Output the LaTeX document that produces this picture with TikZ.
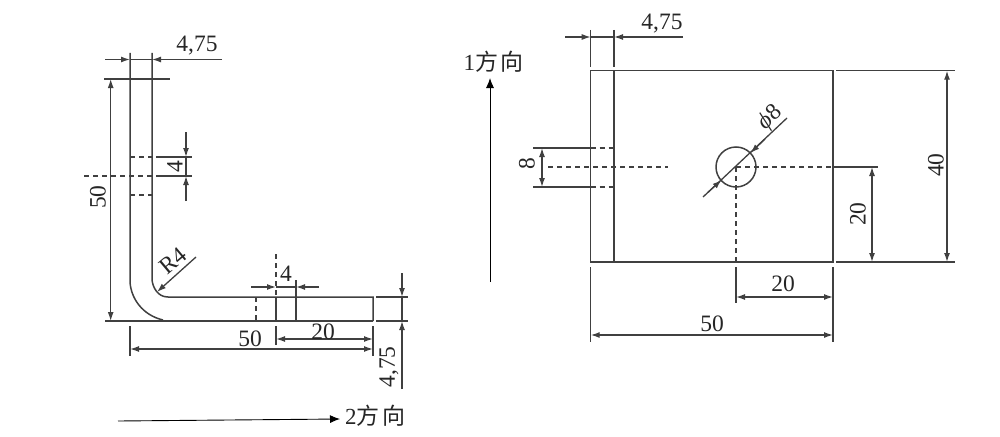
\documentclass[tikz,border=0pt]{standalone}
\usepackage{fontspec}
\setmainfont{Liberation Serif}
\newfontfamily\cjk{Noto Sans CJK SC}
\usetikzlibrary{arrows.meta}
\definecolor{ink}{HTML}{404040}
\newcommand{\fxd}{{\cjk 方\hspace{2.5pt}向}}
\tikzset{
  x=1pt,y=-1pt,
  part/.style={draw=ink,line width=1.5pt},
  hid/.style={draw=ink,line width=1.3pt,dash pattern=on 5pt off 4pt},
  dim/.style={draw=ink,line width=1.3pt},
  dimend/.style={dim,{Latex[length=9pt,width=6pt]}-{Latex[length=9pt,width=6pt]}},
  dimto/.style={dim,-{Latex[length=9pt,width=6pt]}},
  dirarrow/.style={draw=black,line width=0.9pt,-{Latex[length=10pt,width=8pt]}},
  lbl/.style={inner sep=0pt,font=\fontsize{23.5}{24}\selectfont,text=black!85},
  cjklbl/.style={inner sep=0pt,font=\fontsize{23}{24}\selectfont,text=black!85}
}
\begin{document}
\begin{tikzpicture}
\useasboundingbox (0,0) rectangle (1000,436);
% ---- left view
\draw[part] (130,53) -- (130,282) .. controls (131,298) and (142,315) .. (163,320);
\draw[part] (152,53) -- (152,280) .. controls (153,288) and (158,297) .. (168,297) -- (373,297) -- (373,321);
\draw[part] (105,321) -- (373,321);
\draw[part] (104,79) -- (170,79);
% top dim
\draw[dimto] (105,59.5) -- (130,59.5);
\draw[dimto] (222,59.5) -- (152,59.5);
\draw[dim] (130,59.5) -- (152,59.5);
\node[lbl] (a475) at (197,46) {4,75};
% 50 vertical
\draw[dimend] (110.7,79) -- (110.7,321);
\node[lbl,rotate=90] (a50v) at (98,197) {50};
% hole hidden lines
\draw[hid] (130,157) -- (152,157);
\draw[dim] (156,157) -- (192,157);
\draw[hid] (84,176) -- (156,176);
\draw[dim] (156,176) -- (192,176);
\draw[hid] (130,195) -- (152,195);
% 4 vertical
\draw[dimto] (186,132) -- (186,157);
\draw[dimto] (186,201) -- (186,176);
\draw[dim] (186,157) -- (186,176);
\node[lbl,rotate=90] (a4v) at (175,167) {4};
% R4
\draw[dimto] (196,257) -- (157,292);
\node[lbl,rotate=40] (aR4) at (173,261) {R4};
% bottom hole
\draw[hid] (256,297) -- (256,321);
\draw[hid] (276,254) -- (276,297);
\draw[part] (276,297) -- (276,321);
\draw[part] (296,280) -- (296,321);
\draw[dim] (276,326) -- (276,345);
\draw[dimto] (251,287) -- (276,287);
\draw[dimto] (319,287) -- (296,287);
\draw[dim] (276,287) -- (296,287);
\node[lbl] (a4h) at (286,274) {4};
% 20
\draw[dimend] (276,339) -- (373,339);
\node[lbl] (a20l) at (323,332) {20};
% 50
\draw[dimend] (130,349) -- (373,349);
\draw[dim] (130,326) -- (130,356);
\draw[dim] (373,326) -- (373,356);
\node[lbl] (a50h) at (250,339) {50};
% 4,75 right
\draw[dim] (376,297) -- (408,297);
\draw[dim] (376,321) -- (408,321);
\draw[dimto] (402,273) -- (402,297);
\draw[dimto] (402,389) -- (402,321);
\draw[dim] (402,297) -- (402,321);
\node[lbl,rotate=90] (a475v) at (389,367) {4,75};
% direction 2
\coordinate (d2a) at (118,421);
\coordinate (d2b) at (340,419);
\node[cjklbl,anchor=west] (d2) at (345,416) {2\fxd};
\draw[dirarrow] (d2a) -- (d2b);
% ---- right view
\draw[part] (590.7,70.7) rectangle (833,262);
\draw[part] (614,70.7) -- (614,262);
\draw[dim] (590.7,30) -- (590.7,67);
\draw[dim] (614,30) -- (614,67);
\draw[dimto] (565,37) -- (590.7,37);
\draw[dimto] (683,37) -- (614,37);
\draw[dim] (590.7,37) -- (614,37);
\node[lbl] (b475) at (662,24) {4,75};
% direction 1
\node[cjklbl] (d1) at (493.5,62) {1\fxd};
\coordinate (d1a) at (490,282);
\coordinate (d1b) at (490,78);
\draw[dirarrow] (d1a) -- (d1b);
% 8
\draw[dim] (533,148) -- (590.7,148);
\draw[dim] (533,187) -- (590.7,187);
\draw[hid] (590.7,148) -- (614,148);
\draw[hid] (590.7,187) -- (614,187);
\draw[hid] (548,167) -- (668,167);
\draw[dimend] (542,148) -- (542,187);
\node[lbl,rotate=90] (b8) at (527,164) {8};
% hole
\coordinate (c) at (736,167);
\draw[part] (c) circle (20);
\draw[hid] (c) -- (833,167);
\draw[dim] (833,167) -- (878,167);
\draw[hid] (c) -- (736,262);
\draw[dim] (703,197) -- (787,118);
\draw[dimto] (708,192.3) -- (721.5,180);
\draw[dimto] (765,139) -- (750.5,153);
\node[lbl,rotate=43] (bphi) at (770,118) {{\itshape ϕ}8};
% 20 vertical
\draw[dimend] (872,167) -- (872,262);
\node[lbl,rotate=90] (b20v) at (858,214) {20};
% 40 vertical
\draw[dim] (836,70.7) -- (955,70.7);
\draw[dim] (836,262) -- (955,262);
\draw[dimend] (947,70.7) -- (947,262);
\node[lbl,rotate=90] (b40) at (936,165) {40};
% bottom dims
\draw[dim] (736,267) -- (736,303);
\draw[dim] (833,267) -- (833,342);
\draw[dim] (590.7,267) -- (590.7,342);
\draw[dimend] (736,297) -- (833,297);
\node[lbl] (b20h) at (783,284) {20};
\draw[dimend] (590.7,335) -- (833,335);
\node[lbl] (b50) at (712,324) {50};
\end{tikzpicture}
\end{document}
